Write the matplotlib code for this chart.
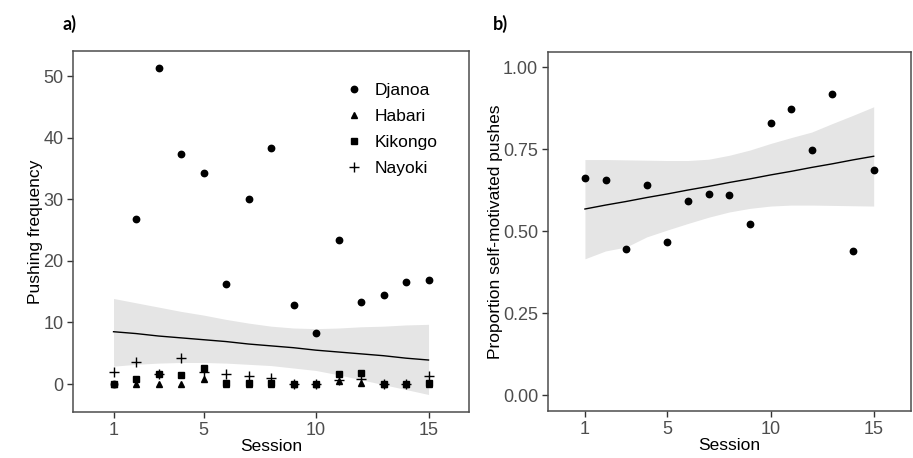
import matplotlib
matplotlib.use("Agg")
import matplotlib.pyplot as plt

plt.rcParams["font.family"] = ["Liberation Sans", "DejaVu Sans"]

sessions = list(range(1, 16))

# panel a: pushing frequency per individual
djanoa = [0, 26.8, 51.4, 37.3, 34.3, 16.3, 30.0, 38.3, 12.9, 8.3, 23.4, 13.4, 14.4, 16.5, 16.9]
habari = [0, 0, 0, 0, 0.8, 0, 0, 0, 0, 0, 0.5, 0.2, 0, 0, 0]
kikongo = [0, 0.8, 1.6, 1.4, 2.6, 0.1, 0.1, 0.1, 0, 0, 1.6, 1.8, 0, 0, 0.1]
nayoki = [2.0, 3.6, 1.6, 4.2, 1.9, 1.7, 1.3, 0.9, 0, 0, 0.7, 0.8, 0, 0, 1.3]

fit_a = [8.5, 8.2, 7.8, 7.5, 7.2, 6.9, 6.5, 6.2, 5.9, 5.5, 5.2, 4.9, 4.6, 4.2, 3.9]
upper_a = [13.9, 13.2, 12.5, 11.8, 11.2, 10.5, 9.9, 9.4, 9.1, 9.0, 9.1, 9.3, 9.4, 9.6, 9.7]
lower_a = [2.9, 3.2, 3.4, 3.5, 3.5, 3.4, 3.2, 3.0, 2.6, 2.2, 1.5, 0.7, -0.1, -0.9, -1.7]

# panel b: proportion of self-motivated pushes
prop_self = [0.664, 0.658, 0.445, 0.641, 0.467, 0.591, 0.614, 0.611, 0.521,
             0.832, 0.872, 0.748, 0.919, 0.440, 0.688]
fit_b = [0.568, 0.580, 0.591, 0.603, 0.614, 0.626, 0.637, 0.649, 0.660,
         0.672, 0.683, 0.695, 0.706, 0.718, 0.729]
upper_b = [0.719, 0.719, 0.718, 0.717, 0.716, 0.716, 0.720, 0.732, 0.748,
           0.768, 0.786, 0.803, 0.829, 0.854, 0.880]
lower_b = [0.416, 0.440, 0.452, 0.483, 0.504, 0.524, 0.543, 0.559, 0.570,
           0.577, 0.580, 0.580, 0.579, 0.578, 0.577]

x_ticks = [1, 5, 10, 15]
band_col = "#e5e5e5"
spine_col = "#4d4d4d"
tick_col = "#4d4d4d"
fs = 12.5


def style_axes(ax):
    for sp in ax.spines.values():
        sp.set_color(spine_col)
        sp.set_linewidth(1.1)
    ax.tick_params(direction="out", length=4, width=1, color="#333333",
                   labelsize=13, labelcolor=tick_col, pad=3)
    ax.set_xticks(x_ticks)
    ax.set_xlim(-0.8, 16.8)


fig = plt.figure(figsize=(9.13, 4.58), dpi=100)
ax1 = fig.add_axes([0.080, 0.1004, 0.4337, 0.788])
ax2 = fig.add_axes([0.600, 0.103, 0.3976, 0.784])

# panel a
ax1.fill_between(sessions, lower_a, upper_a, color=band_col, lw=0)
ax1.plot(sessions, fit_a, color="black", lw=1)
ax1.plot(sessions, djanoa, "o", color="black", ms=4.6, label="Djanoa")
ax1.plot(sessions, habari, "^", color="black", ms=4.2, label="Habari")
ax1.plot(sessions, kikongo, "s", color="black", ms=4.0, label="Kikongo")
ax1.plot(sessions, nayoki, "+", color="black", ms=7.5, mew=1, label="Nayoki")
style_axes(ax1)
ax1.set_ylim(-4.55, 54.1)
ax1.set_yticks([0, 10, 20, 30, 40, 50])
ax1.set_xlabel("Session", fontsize=fs, labelpad=0)
ax1.set_ylabel("Pushing frequency", fontsize=fs, labelpad=0)
ax1.legend(loc="upper right", bbox_to_anchor=(0.96, 0.955), frameon=False,
           fontsize=fs, handlelength=1.2, handletextpad=0.6,
           labelspacing=0.62)

# panel b
ax2.fill_between(sessions, lower_b, upper_b, color=band_col, lw=0)
ax2.plot(sessions, fit_b, color="black", lw=1)
ax2.plot(sessions, prop_self, "o", color="black", ms=4.6)
style_axes(ax2)
ax2.set_ylim(-0.048, 1.048)
ax2.set_yticks([0, 0.25, 0.5, 0.75, 1.0])
ax2.set_yticklabels(["0.00", "0.25", "0.50", "0.75", "1.00"])
ax2.set_xlabel("Session", fontsize=fs, labelpad=0)
ax2.set_ylabel("Proportion self-motivated pushes", fontsize=fs, labelpad=0)

fig.text(0.069, 0.948, "a)", fontsize=13, fontweight="bold", ha="left", va="center",
         family=["Lato", "DejaVu Sans"])
fig.text(0.540, 0.948, "b)", fontsize=13, fontweight="bold", ha="left", va="center",
         family=["Lato", "DejaVu Sans"])

fig.savefig("out.png", dpi=100)
